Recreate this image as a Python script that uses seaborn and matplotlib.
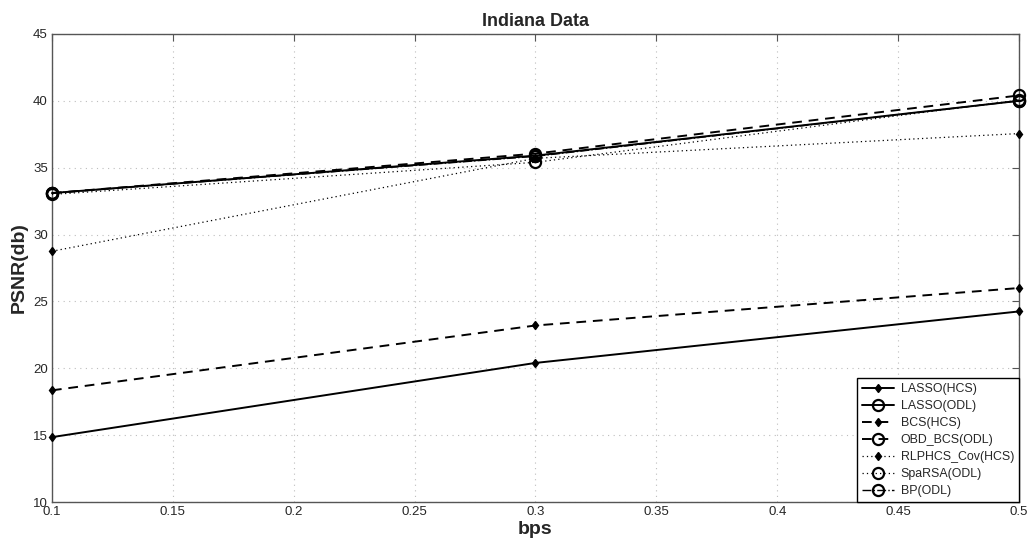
import matplotlib
matplotlib.use("Agg")
import matplotlib.pyplot as plt
import seaborn as sns
import numpy as np

# bit rate (bits per sample) and PSNR results per method
bps = [0.1, 0.3, 0.5]
lasso_hcs = [14.85, 20.4, 24.25]
lasso_odl = [33.1, 35.9, 40.0]
bcs_hcs = [18.35, 23.2, 26.0]
obd_bcs_odl = [33.1, 36.05, 40.4]
rlphcs_cov_hcs = [28.75, 35.7, 37.55]
sparsa_odl = [33.0, 35.4, 40.05]
bp_odl = [33.1, 35.85, 40.0]

series_names = ["LASSO(HCS)", "LASSO(ODL)", "BCS(HCS)", "OBD_BCS(ODL)",
                "RLPHCS_Cov(HCS)", "SpaRSA(ODL)", "BP(ODL)"]
series_values = [lasso_hcs, lasso_odl, bcs_hcs, obd_bcs_odl,
                 rlphcs_cov_hcs, sparsa_odl, bp_odl]

x_ticks = [0.1, 0.15, 0.2, 0.25, 0.3, 0.35, 0.4, 0.45, 0.5]
y_ticks = [10, 15, 20, 25, 30, 35, 40, 45]

sns.set_style("white")
plt.rcParams["font.family"] = ["Liberation Sans", "DejaVu Sans"]

fig = plt.figure(figsize=(10.33, 5.43), dpi=100)
ax = fig.add_axes([0.0503, 0.0755, 0.9361, 0.862])

styles = {
    "LASSO(HCS)": dict(linestyle="-", marker="d", markersize=4.5, lw=1.4,
                       markerfacecolor="black"),
    "LASSO(ODL)": dict(linestyle="-", marker="o", markersize=8, lw=1.4,
                       markerfacecolor="none", markeredgewidth=1.6),
    "BCS(HCS)": dict(linestyle=(0, (5, 3.5)), marker="d", markersize=4.5, lw=1.4,
                     markerfacecolor="black"),
    "OBD_BCS(ODL)": dict(linestyle=(0, (5, 3.5)), marker="o", markersize=8, lw=1.4,
                         markerfacecolor="none", markeredgewidth=1.6),
    "RLPHCS_Cov(HCS)": dict(linestyle=(0, (1, 2.5)), marker="d", markersize=4.5,
                            lw=0.9, markerfacecolor="black"),
    "SpaRSA(ODL)": dict(linestyle=(0, (1, 2.5)), marker="o", markersize=8, lw=0.9,
                        markerfacecolor="none", markeredgewidth=1.6),
    "BP(ODL)": dict(linestyle="-.", marker="o", markersize=8, lw=1.0,
                    markerfacecolor="none", markeredgewidth=1.6),
}

for name, vals in zip(series_names, series_values):
    st = styles[name]
    sns.lineplot(x=bps, y=vals, ax=ax, color="black", label=name,
                 linestyle=st["linestyle"], linewidth=st["lw"],
                 marker=st["marker"], markersize=st["markersize"],
                 markerfacecolor=st["markerfacecolor"], markeredgecolor="black",
                 markeredgewidth=st.get("markeredgewidth", 1.0), clip_on=False,
                 zorder=3)

ax.set_xlim(0.1, 0.5)
ax.set_ylim(10, 45)
ax.set_xticks(x_ticks)
ax.set_xticklabels([f"{t:g}" for t in x_ticks])
ax.set_yticks(y_ticks)
ax.set_yticklabels([str(t) for t in y_ticks])
ax.tick_params(direction="in", length=5, width=0.8, color="#555555",
               labelsize=9.5, top=True, right=True, pad=3)
for lab in ax.get_xticklabels() + ax.get_yticklabels():
    lab.set_family(["Liberation Sans Narrow", "Liberation Sans", "DejaVu Sans"])

ax.grid(True, linestyle=(0, (1, 4)), color="#bdbdbd", linewidth=0.8)
for sp in ax.spines.values():
    sp.set_color("#555555")
    sp.set_linewidth(1.0)

ax.set_title("Indiana Data", fontsize=13, fontweight="bold", pad=6)
ax.set_xlabel("bps", fontsize=14, fontweight="bold", labelpad=2)
ax.set_ylabel("PSNR(db)", fontsize=14, fontweight="bold", labelpad=4)

leg = ax.legend(loc="lower right", fontsize=8.9, frameon=True, fancybox=False,
                edgecolor="black", framealpha=1, handlelength=2.6,
                borderaxespad=0.0, labelspacing=0.4, borderpad=0.4,
                handletextpad=0.5)
leg.get_frame().set_linewidth(1.0)
leg.set_zorder(5)

fig.savefig("out.png", dpi=100)
